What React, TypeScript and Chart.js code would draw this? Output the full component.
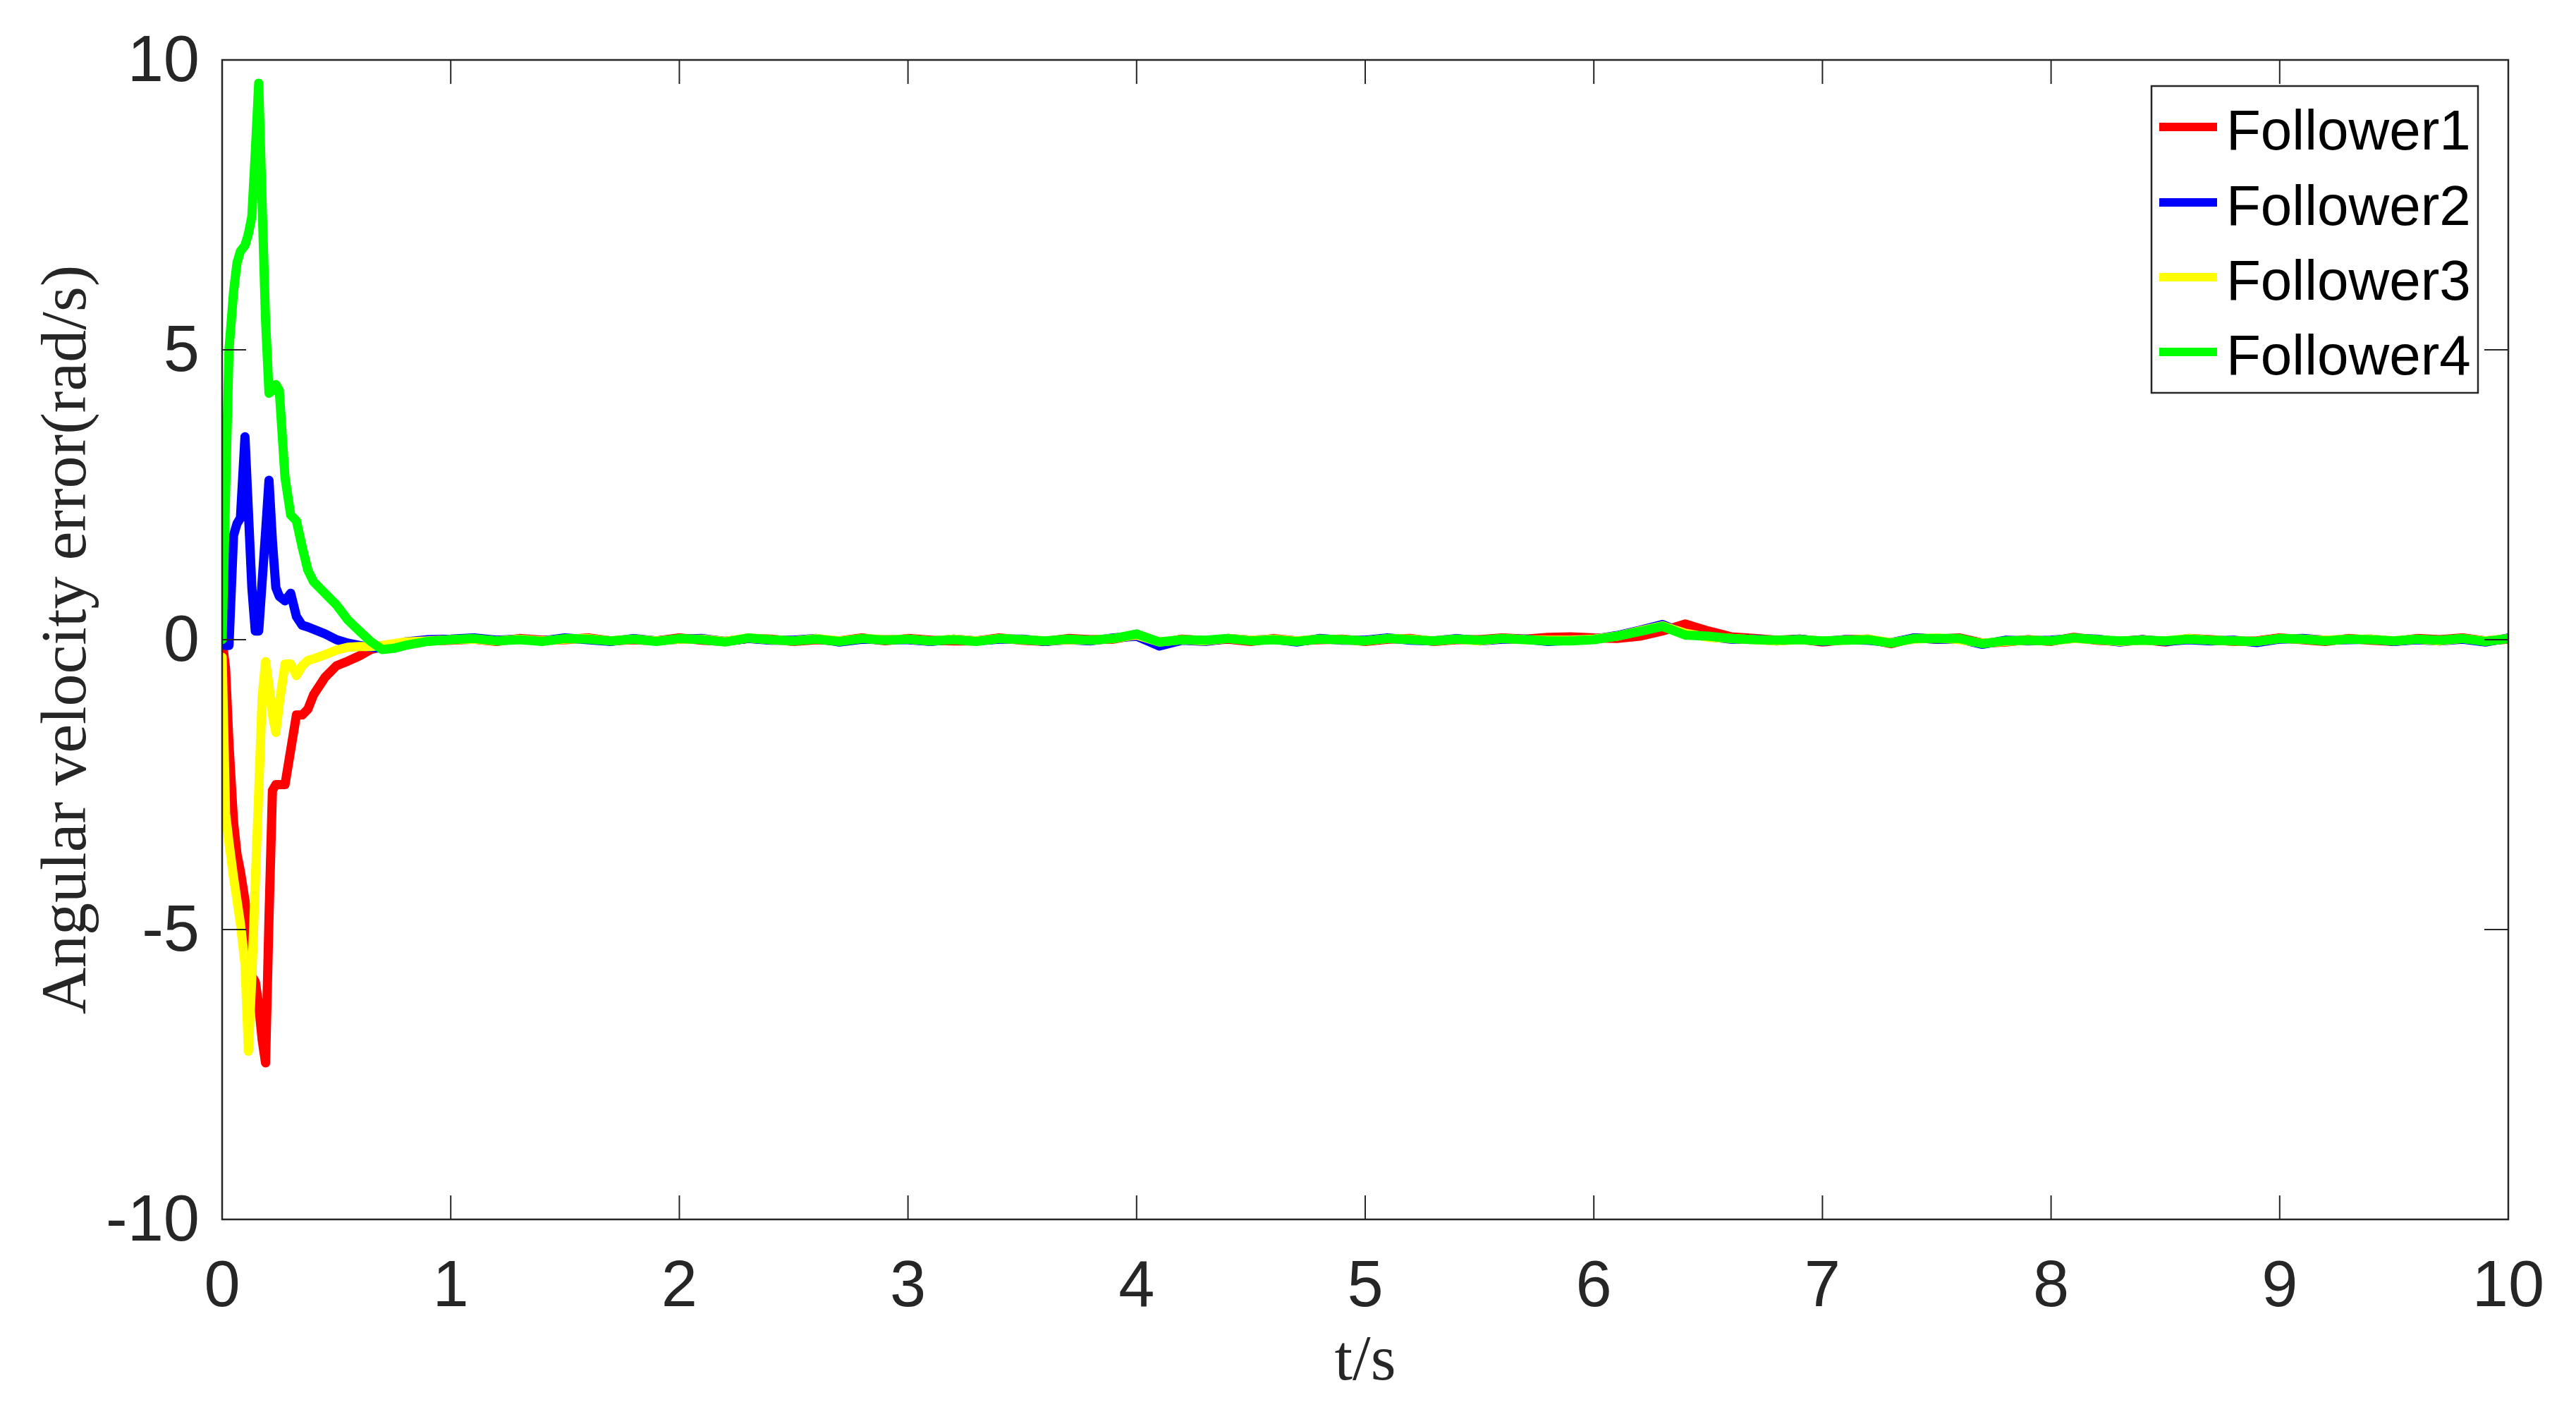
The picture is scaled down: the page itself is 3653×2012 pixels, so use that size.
import React, { useEffect, useRef } from "react";
import { Chart, registerables } from "chart.js";

Chart.register(...registerables);

const W = 3653;
const H = 2012;

const seriesNames = ["Follower1", "Follower2", "Follower3", "Follower4"];
const seriesColors = ["#FF0000", "#0000FF", "#FFFF00", "#00FF00"];

const xTitle = "t/s";
const yTitle = "Angular velocity error(rad/s)";

// time samples (s)
const timeS = [
  0, 0.015, 0.03, 0.05, 0.065, 0.08, 0.1, 0.115, 0.13, 0.145,
  0.16, 0.175, 0.19, 0.205, 0.22, 0.235, 0.25, 0.275, 0.3, 0.325,
  0.35, 0.375, 0.4, 0.45, 0.5, 0.55, 0.6, 0.65, 0.7, 0.75,
  0.8, 0.9,
  1.0, 1.1, 1.2, 1.3, 1.4, 1.5, 1.6, 1.7, 1.8, 1.9,
  2.0, 2.1, 2.2, 2.3, 2.4, 2.5, 2.6, 2.7, 2.8, 2.9,
  3.0, 3.1, 3.2, 3.3, 3.4, 3.5, 3.6, 3.7, 3.8, 3.9,
  4.0, 4.1, 4.2, 4.3, 4.4, 4.5, 4.6, 4.7, 4.8, 4.9,
  5.0, 5.1, 5.2, 5.3, 5.4, 5.5, 5.6, 5.7, 5.8, 5.9,
  6.0, 6.1, 6.2, 6.3, 6.4, 6.5, 6.6, 6.7, 6.8, 6.9,
  7.0, 7.1, 7.2, 7.3, 7.4, 7.5, 7.6, 7.7, 7.8, 7.9,
  8.0, 8.1, 8.2, 8.3, 8.4, 8.5, 8.6, 8.7, 8.8, 8.9,
  9.0, 9.1, 9.2, 9.3, 9.4, 9.5, 9.6, 9.7, 9.8, 9.9,
  10.0,
];

const follower1 = [
  0, -0.5, -1.8, -3.15, -3.7, -4.0, -4.5, -5.0, -5.8, -5.9,
  -6.3, -6.9, -7.3, -4.8, -2.6, -2.5, -2.5, -2.5, -1.9, -1.3,
  -1.3, -1.2, -0.95, -0.65, -0.45, -0.37, -0.28, -0.17, -0.12, -0.08,
  -0.05, -0.02,
  -0.01, 0.01, -0.03, 0.02, -0.01, 0.0, 0.03, -0.02, 0.0, -0.02,
  0.03, -0.01, -0.03, 0.02, 0.01, -0.03, 0.0, -0.02, 0.03, -0.02,
  0.02, -0.01, -0.02, -0.02, 0.03, -0.01, -0.03, 0.02, 0.0, 0.01,
  0.08, -0.06, 0.01, -0.02, 0.01, -0.03, 0.02, -0.02, 0.0, 0.01,
  -0.03, 0.01, 0.02, -0.03, 0.0, 0.0, 0.03, 0.01, 0.04, 0.05,
  0.03, 0.02, 0.06, 0.15, 0.27, 0.15, 0.05, 0.02, -0.01, 0.01,
  -0.04, 0.0, 0.01, -0.07, 0.03, 0.01, 0.03, -0.06, -0.04, 0.0,
  -0.03, 0.04, -0.01, -0.03, 0.0, -0.04, 0.02, 0.0, -0.03, -0.02,
  0.03, 0.0, -0.03, 0.02, -0.01, -0.03, 0.02, 0.0, 0.03, -0.02,
  0.01,
];

const follower2 = [
  0, -0.1, -0.1, 1.8, 2.0, 2.1, 3.5, 2.2, 0.9, 0.15,
  0.15, 1.0, 1.85, 2.75, 1.7, 0.9, 0.75, 0.67, 0.8, 0.4,
  0.25, 0.22, 0.18, 0.1, 0.0, -0.06, -0.1, -0.13, -0.15, -0.1,
  -0.04, 0.0,
  0.01, 0.03, -0.01, 0.01, -0.02, 0.03, 0.0, -0.03, 0.02, -0.02,
  0.01, 0.02, -0.03, 0.02, -0.01, -0.01, 0.02, -0.04, 0.01, 0.0,
  0.0, -0.03, 0.01, -0.02, 0.01, 0.01, -0.03, 0.0, -0.02, 0.03,
  0.06, -0.11, -0.01, -0.03, 0.02, -0.01, 0.01, -0.04, 0.02, -0.01,
  -0.01, 0.03, -0.01, -0.02, 0.02, -0.02, 0.01, 0.01, -0.03, -0.01,
  0.01, 0.07, 0.16, 0.26, 0.1, 0.05, 0.01, 0.01, -0.02, 0.01,
  -0.03, 0.0, -0.01, -0.05, 0.03, 0.01, 0.01, -0.08, -0.01, -0.02,
  -0.01, 0.02, 0.01, -0.04, 0.0, -0.03, 0.0, -0.02, -0.01, -0.05,
  0.01, 0.02, -0.01, 0.0, 0.01, -0.03, 0.0, -0.02, 0.01, -0.04,
  0.03,
];

const follower3 = [
  -0.3, -3.0, -3.5, -4.1, -4.5, -4.9, -5.6, -7.1, -5.8, -4.2,
  -2.6, -1.0, -0.38, -0.8, -1.3, -1.6, -1.1, -0.42, -0.42, -0.62,
  -0.45, -0.36, -0.33, -0.26, -0.18, -0.13, -0.12, -0.12, -0.1, -0.07,
  -0.04, -0.02,
  0.0, 0.01, -0.02, 0.01, -0.02, 0.01, 0.02, -0.02, 0.01, -0.02,
  0.01, 0.01, -0.03, 0.03, 0.0, -0.02, 0.02, -0.02, 0.02, 0.0,
  0.01, -0.02, 0.01, -0.02, 0.02, 0.0, -0.02, 0.0, -0.01, 0.02,
  0.08, -0.04, 0.0, -0.02, 0.02, -0.01, 0.01, -0.02, 0.01, 0.0,
  -0.02, 0.02, 0.01, -0.02, 0.01, -0.02, 0.02, 0.0, -0.01, -0.01,
  0.01, 0.06, 0.15, 0.24, 0.11, 0.04, 0.02, 0.0, -0.02, 0.0,
  -0.02, -0.01, 0.01, -0.05, 0.01, 0.03, 0.0, -0.06, -0.03, -0.01,
  -0.02, 0.02, 0.0, -0.03, -0.01, -0.02, 0.02, -0.01, -0.02, -0.03,
  0.02, 0.01, -0.01, 0.01, 0.01, -0.02, 0.01, -0.02, 0.02, -0.02,
  0.02,
];

const follower4 = [
  0, 2.5, 5.0, 6.0, 6.5, 6.7, 6.8, 7.0, 7.3, 8.4,
  9.6, 7.5, 5.5, 4.25, 4.3, 4.4, 4.3, 2.8, 2.15, 2.05,
  1.6, 1.2, 1.0, 0.8, 0.6, 0.34, 0.15, -0.03, -0.17, -0.15,
  -0.1, -0.03,
  0.0, 0.02, -0.02, 0.0, -0.03, 0.02, 0.01, -0.02, 0.01, -0.03,
  0.02, 0.0, -0.04, 0.03, 0.0, -0.02, 0.01, -0.03, 0.02, -0.01,
  0.01, -0.02, 0.0, -0.03, 0.02, 0.0, -0.02, 0.01, -0.01, 0.02,
  0.1, -0.04, 0.0, -0.01, 0.02, -0.02, 0.0, -0.03, 0.01, 0.0,
  -0.02, 0.02, 0.0, -0.02, 0.01, -0.01, 0.02, 0.0, -0.02, -0.02,
  0.0, 0.06, 0.14, 0.23, 0.08, 0.06, 0.02, 0.0, -0.01, 0.0,
  -0.02, -0.01, 0.0, -0.06, 0.02, 0.02, 0.02, -0.07, -0.02, -0.01,
  -0.02, 0.03, 0.0, -0.02, -0.01, -0.02, 0.01, -0.01, -0.02, -0.03,
  0.02, 0.01, -0.02, 0.01, 0.0, -0.02, 0.01, -0.01, 0.02, -0.03,
  0.02,
];

const seriesValues = [follower1, follower2, follower3, follower4];

const xMin = 0;
const xMax = 10;
const xStep = 1;
const yMin = -10;
const yMax = 10;
const yStep = 5;

const AXIS_COLOR = "#262626";
const SANS = "'Liberation Sans', Arial, sans-serif";
const SERIF = "'Liberation Serif', 'Times New Roman', serif";

const boxPlugin = {
  id: "matlabBox",
  afterDatasetsDraw(chart: any) {
    const { ctx, chartArea: a, scales } = chart;
    ctx.save();
    ctx.strokeStyle = AXIS_COLOR;
    ctx.lineWidth = 2.5;
    ctx.strokeRect(a.left, a.top, a.right - a.left, a.bottom - a.top);
    const tl = 34;
    ctx.lineWidth = 2;
    ctx.beginPath();
    scales.x.ticks.forEach((t: any) => {
      const px = scales.x.getPixelForValue(t.value);
      ctx.moveTo(px, a.bottom);
      ctx.lineTo(px, a.bottom - tl);
      ctx.moveTo(px, a.top);
      ctx.lineTo(px, a.top + tl);
    });
    scales.y.ticks.forEach((t: any) => {
      const py = scales.y.getPixelForValue(t.value);
      ctx.moveTo(a.left, py);
      ctx.lineTo(a.left + tl, py);
      ctx.moveTo(a.right, py);
      ctx.lineTo(a.right - tl, py);
    });
    ctx.stroke();
    ctx.restore();
  },
  afterDraw(chart: any) {
    const { ctx } = chart;
    const bx = 3051, by = 122, bw = 463, bh = 435;
    ctx.save();
    ctx.fillStyle = "#FFFFFF";
    ctx.fillRect(bx, by, bw, bh);
    ctx.strokeStyle = AXIS_COLOR;
    ctx.lineWidth = 2.5;
    ctx.strokeRect(bx, by, bw, bh);
    const rows = [180, 287, 393, 499];
    ctx.font = `80px ${SANS}`;
    ctx.textAlign = "left";
    ctx.textBaseline = "alphabetic";
    chart.data.datasets.forEach((ds: any, i: number) => {
      const y = rows[i];
      ctx.strokeStyle = ds.borderColor;
      ctx.lineWidth = 12;
      ctx.beginPath();
      ctx.moveTo(3062, y);
      ctx.lineTo(3144, y);
      ctx.stroke();
      ctx.fillStyle = "#000000";
      ctx.fillText(ds.label, 3157, y + 32);
    });
    ctx.restore();
  },
};

export default function App() {
  const ref = useRef<HTMLCanvasElement | null>(null);

  useEffect(() => {
    if (!ref.current) return;
    const datasets = seriesNames.map((name, si) => ({
      label: name,
      data: timeS.map((t, i) => ({ x: t, y: seriesValues[si][i] })),
      borderColor: seriesColors[si],
      backgroundColor: seriesColors[si],
      borderWidth: 13,
      pointRadius: 0,
      tension: 0,
      fill: false,
      borderJoinStyle: "round" as const,
      borderCapStyle: "round" as const,
      order: seriesNames.length - si,
    }));

    const chart = new Chart(ref.current, {
      type: "line",
      data: { datasets },
      plugins: [boxPlugin],
      options: {
        animation: false,
        responsive: false,
        maintainAspectRatio: false,
        devicePixelRatio: 1,
        parsing: false as any,
        normalized: true,
        layout: { padding: { top: 85, right: 96, left: 0, bottom: 0 } },
        plugins: {
          legend: { display: false },
          tooltip: { enabled: false },
        },
        scales: {
          x: {
            type: "linear",
            min: xMin,
            max: xMax,
            grid: { display: false },
            border: { display: false },
            ticks: {
              stepSize: xStep,
              padding: 34,
              color: AXIS_COLOR,
              font: { family: SANS, size: 92 },
              maxRotation: 0,
              autoSkip: false,
            },
            title: {
              display: true,
              text: xTitle,
              color: AXIS_COLOR,
              font: { family: SERIF, size: 92 },
              padding: { top: 25, bottom: 25 },
            },
            afterFit(scale: any) {
              scale.height = H - 1729;
            },
          },
          y: {
            type: "linear",
            min: yMin,
            max: yMax,
            grid: { display: false },
            border: { display: false },
            ticks: {
              stepSize: yStep,
              padding: 24,
              labelOffset: 5,
              color: AXIS_COLOR,
              font: { family: SANS, size: 92 },
            },
            title: {
              display: true,
              text: yTitle,
              color: AXIS_COLOR,
              font: { family: SERIF, size: 92 },
              padding: { top: 42, bottom: 42 },
            },
            afterFit(scale: any) {
              scale.width = 315;
            },
          },
        },
      },
    });
    return () => chart.destroy();
  }, []);

  return (
    <div style={{ position: "fixed", left: 0, top: 0, width: W, height: H, background: "#FFFFFF" }}>
      <canvas ref={ref} width={W} height={H} style={{ width: W, height: H, display: "block" }} />
    </div>
  );
}
